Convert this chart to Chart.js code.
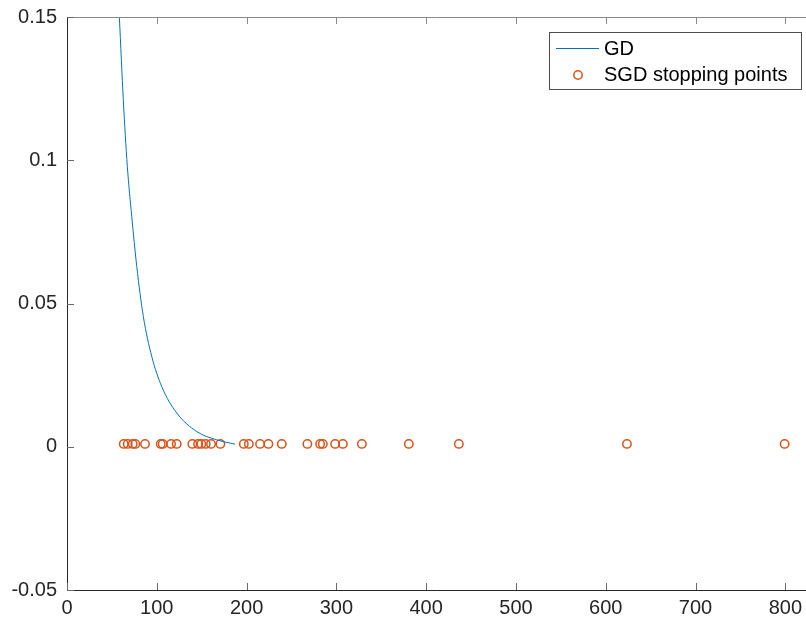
<!DOCTYPE html>
<html>
<head>
<meta charset="utf-8">
<script src="https://cdn.jsdelivr.net/npm/chart.js@4.4.0/dist/chart.umd.min.js"></script>
<style>
  html, body { margin: 0; padding: 0; background: #fff; }
  canvas { display: block; }
</style>
</head>
<body>
<canvas id="c" width="806" height="623"></canvas>
<script>
// GD curve
const gdX = [58.3, 62.7, 67.2, 72.1, 77.7, 85.0, 94.4, 105.5, 122.2, 144.5, 166.8, 187.2];
const gdY = [0.1502, 0.1211, 0.0978, 0.0804, 0.0629, 0.0455, 0.0315, 0.0210, 0.0118, 0.0053, 0.0024, 0.0009];

// SGD stopping points
const sgdX = [63.2, 67.6, 73.2, 76.1, 86.9, 104.4, 106.6, 115.9, 122.2, 139.6,
              146.0, 149.6, 154.5, 160.4, 170.8, 196.9, 202.5, 215.0, 224.3, 239.2,
              267.7, 281.9, 284.9, 298.6, 307.2, 328.4, 380.7, 436.4, 623.6, 799.2];
const sgdY = [0.001, 0.001, 0.001, 0.001, 0.001, 0.001, 0.001, 0.001, 0.001, 0.001,
              0.001, 0.001, 0.001, 0.001, 0.001, 0.001, 0.001, 0.001, 0.001, 0.001,
              0.001, 0.001, 0.001, 0.001, 0.001, 0.001, 0.001, 0.001, 0.001, 0.001];

const xTicks = [0, 100, 200, 300, 400, 500, 600, 700, 800];
const yTicks = [-0.05, 0, 0.05, 0.1, 0.15];
const yTickLabels = ['-0.05', '0', '0.05', '0.1', '0.15'];

const FONT = "'Liberation Sans', Arial, Helvetica, sans-serif";
const AXIS = '#262626';
const BLUE = '#0072BD';
const ORANGE = '#D95319';

// axes box with inward ticks, matlab style
const axesBox = {
  id: 'axesBox',
  afterDatasetsDraw(chart) {
    const { ctx, chartArea: a, scales: { x, y } } = chart;
    const tl = 7;
    ctx.save();
    ctx.lineWidth = 1;
    // top edge (lighter)
    ctx.strokeStyle = '#8a8a8a';
    ctx.beginPath();
    ctx.moveTo(a.left, a.top + 0.5);
    ctx.lineTo(a.right, a.top + 0.5);
    xTicks.forEach(v => {
      const px = Math.round(x.getPixelForValue(v)) + 0.5;
      ctx.moveTo(px, a.top);
      ctx.lineTo(px, a.top + tl);
    });
    ctx.stroke();
    // left + bottom
    ctx.strokeStyle = AXIS;
    ctx.beginPath();
    ctx.moveTo(a.left + 0.5, a.top);
    ctx.lineTo(a.left + 0.5, a.bottom + 0.5);
    ctx.lineTo(a.right, a.bottom + 0.5);
    ctx.stroke();
    ctx.strokeStyle = '#6a6a6a';
    ctx.beginPath();
    xTicks.forEach(v => {
      const px = Math.round(x.getPixelForValue(v)) + 0.5;
      ctx.moveTo(px, a.bottom);
      ctx.lineTo(px, a.bottom - tl);
    });
    yTicks.forEach(v => {
      const py = Math.round(y.getPixelForValue(v)) + 0.5;
      ctx.moveTo(a.left, py);
      ctx.lineTo(a.left + tl, py);
    });
    ctx.stroke();
    ctx.restore();
  }
};

// legend box in the upper right corner
const legendBox = {
  id: 'legendBox',
  afterDraw(chart) {
    const ctx = chart.ctx;
    const ds = chart.data.datasets;
    ctx.save();
    ctx.fillStyle = '#fff';
    ctx.fillRect(549.5, 32.5, 252, 57);
    ctx.strokeStyle = '#4d4d4d';
    ctx.lineWidth = 1;
    ctx.strokeRect(549.5, 32.5, 252, 57);
    // GD line sample
    ctx.strokeStyle = BLUE;
    ctx.beginPath();
    ctx.moveTo(556, 48.5);
    ctx.lineTo(599, 48.5);
    ctx.stroke();
    // marker sample
    ctx.strokeStyle = ORANGE;
    ctx.lineWidth = 1.5;
    ctx.beginPath();
    ctx.arc(578, 75, 4.2, 0, Math.PI * 2);
    ctx.stroke();
    ctx.fillStyle = '#000';
    ctx.font = '20px ' + FONT;
    ctx.textBaseline = 'middle';
    ctx.fillText(ds[0].label, 604, 49);
    ctx.fillText(ds[1].label, 604, 75);
    ctx.restore();
  }
};

const ctx = document.getElementById('c').getContext('2d');
const chart = new Chart(ctx, {
  type: 'line',
  data: {
    datasets: [
      {
        label: 'GD',
        data: gdX.map((v, i) => ({ x: v, y: gdY[i] })),
        borderColor: BLUE,
        borderWidth: 1,
        pointRadius: 0,
        fill: false,
        cubicInterpolationMode: 'monotone'
      },
      {
        label: 'SGD stopping points',
        data: sgdX.map((v, i) => ({ x: v, y: sgdY[i] })),
        showLine: false,
        borderColor: ORANGE,
        backgroundColor: 'rgba(0,0,0,0)',
        pointStyle: 'circle',
        pointRadius: 4.2,
        pointBorderWidth: 1.5,
        pointBorderColor: ORANGE,
        pointBackgroundColor: 'rgba(0,0,0,0)'
      }
    ]
  },
  plugins: [axesBox, legendBox],
  options: {
    responsive: false,
    animation: false,
    layout: { autoPadding: false, padding: { top: 17, right: 0, left: 0, bottom: 0 } },
    plugins: {
      legend: { display: false },
      tooltip: { enabled: false }
    },
    scales: {
      x: {
        type: 'linear',
        min: 0,
        max: 823,
        grid: { display: false, drawTicks: false },
        border: { display: false },
        afterBuildTicks: s => { s.ticks = xTicks.map(v => ({ value: v })); },
        afterFit: s => { s.height = 33; s.paddingRight = 0; s.paddingLeft = 0; },
        ticks: {
          padding: 6,
          color: AXIS,
          maxRotation: 0,
          font: { family: FONT, size: 20 },
          callback: v => String(v)
        }
      },
      y: {
        type: 'linear',
        min: -0.05,
        max: 0.15,
        grid: { display: false, drawTicks: false },
        border: { display: false },
        afterBuildTicks: s => { s.ticks = yTicks.map(v => ({ value: v })); },
        afterFit: s => { s.width = 67; s.paddingTop = 0; s.paddingBottom = 0; },
        ticks: {
          padding: 10,
          color: AXIS,
          font: { family: FONT, size: 20 },
          callback: v => yTickLabels[yTicks.indexOf(v)]
        }
      }
    }
  }
});
</script>
</body>
</html>
